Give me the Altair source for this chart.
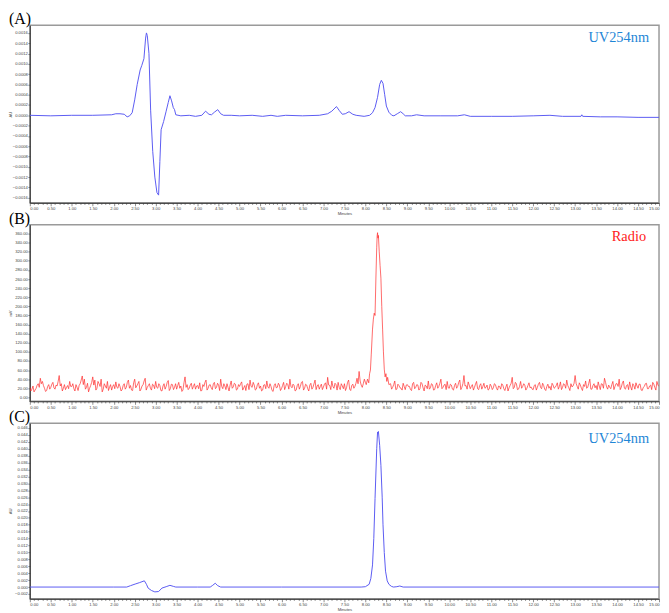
import altair as alt
import pandas as pd

# ---------------- Panel A: UV254nm (AU) ----------------
uv_a_t = [0.0, 0.5, 1.0, 1.5, 1.95, 2.05, 2.15, 2.25, 2.32, 2.38, 2.44, 2.5, 2.56, 2.63, 2.67,
          2.72, 2.76, 2.78, 2.80, 2.84, 2.88, 2.93, 2.98, 3.03, 3.07, 3.10, 3.13, 3.19, 3.25,
          3.30, 3.34, 3.38, 3.42, 3.45, 3.48, 3.6, 3.8, 3.95, 4.1, 4.19, 4.27, 4.33, 4.40, 4.48,
          4.55, 4.62, 4.8, 5.0, 5.3, 5.55, 5.75, 5.9, 6.1, 6.5, 6.9, 7.1, 7.2, 7.31, 7.38, 7.45,
          7.52, 7.61, 7.7, 7.78, 7.97, 8.1, 8.17, 8.23, 8.29, 8.34, 8.38, 8.42, 8.46, 8.5, 8.56,
          8.63, 8.68, 8.76, 8.84, 8.9, 8.95, 9.1, 9.22, 9.4, 9.8, 10.2, 10.36, 10.5, 11.0, 11.5,
          12.0, 12.4, 12.7, 13.14, 13.16, 13.18, 13.6, 14.0, 14.5, 15.0]
uv_a_v = [0.0, -0.00001, 0.0, 0.0, 0.00001, 0.00003, 0.00003, 0.00002, -0.00003, -0.00001,
          0.00005, 0.0003, 0.0006, 0.00088, 0.00097, 0.0011, 0.0015, 0.0016, 0.00155, 0.0012,
          0.0001, -0.0007, -0.0012, -0.0015, -0.00155, -0.0009, -0.00028, -0.00012, 0.00008,
          0.00025, 0.00038, 0.00028, 0.00015, 0.00011, 0.00001, -0.00001, 0.0, -0.00002, 0.0,
          0.00008, 0.00002, 0.00001, 0.00006, 0.00011, 0.00003, 0.0, 0.0, -0.00001, 0.0,
          -0.00002, 0.0, -0.00002, 0.0, -0.00001, 0.0, 0.00003, 0.00008, 0.00017, 0.00009,
          0.00002, 0.00003, 0.00007, 0.00002, 0.0, -0.00002, 0.0, 0.00005, 0.00015, 0.00035,
          0.0006, 0.00068, 0.00062, 0.0004, 0.00018, 0.00006, 0.0, -0.00001, 0.00003, 0.00007,
          0.00003, -0.00001, -0.00001, 0.00001, -0.00001, -0.00001, -0.00001, 0.00001, -0.00002,
          -0.00002, -0.00002, -0.00001, 0.0, -0.00002, -0.00002, 0.00001, -0.00002, -0.00003,
          -0.00003, -0.00004, -0.00004]

# ---------------- Panel B: Radio (mV) ----------------
RADIO_STEP = 0.05
radio_base_1 = [  # t = 0.00 .. 8.00
    22, 18, 12, 20, 30, 42, 35, 20, 15, 28, 22, 33, 18, 25, 48, 30, 20, 17, 26, 35,
    24, 19, 28, 15, 30, 47, 40, 22, 12, 26, 45, 38, 20, 30, 40, 18, 25, 35, 22, 16,
    28, 34, 20, 24, 17, 30, 22, 38, 26, 15, 40, 25, 35, 18, 28, 42, 22, 30, 16, 27,
    35, 20, 26, 14, 30, 24, 37, 19, 28, 22, 18, 33, 25, 16, 45, 28, 20, 31, 24, 18,
    26, 32, 15, 24, 38, 20, 28, 17, 33, 22, 27, 40, 19, 25, 30, 14, 36, 23, 29, 18,
    24, 34, 21, 15, 30, 38, 22, 27, 18, 32, 25, 16, 28, 36, 20, 24, 13, 30, 22, 27,
    19, 33, 24, 28, 40, 21, 26, 16, 30, 24, 35, 20, 27, 14, 31, 22, 38, 25, 18, 29,
    23, 32, 44, 26, 36, 20, 28, 33, 17, 25, 30, 21, 38, 15, 29, 24, 42, 57, 27, 30,
    33]
radio_mid_1 = [  # t = 0.025 .. 7.975
    14, 25, 16, 27, 22, 30, 26, 13, 24, 18, 29, 21, 27, 35, 25, 14, 28, 22, 19, 24,
    30, 14, 22, 26, 38, 28, 18, 31, 20, 33, 27, 16, 35, 24, 12, 30, 20, 15, 28, 24,
    19, 22, 30, 14, 26, 18, 33, 20, 16, 32, 21, 30, 14, 25, 36, 16, 26, 20, 29, 19,
    22, 30, 15, 25, 18, 33, 15, 29, 17, 30, 26, 20, 13, 32, 22, 17, 27, 18, 30, 25,
    19, 14, 28, 33, 16, 27, 21, 30, 19, 31, 15, 24, 30, 17, 22, 27, 20, 31, 16, 28,
    30, 16, 26, 29, 17, 24, 33, 16, 28, 20, 14, 27, 19, 23, 30, 15, 26, 21, 31, 15,
    26, 17, 31, 18, 24, 29, 14, 26, 18, 33, 16, 29, 19, 27, 18, 30, 17, 28, 24, 17,
    29, 18, 27, 17, 24, 31, 16, 22, 30, 19, 15, 33, 18, 26, 20, 31, 30, 36, 22, 40]
radio_peak_t = [8.02, 8.05, 8.08, 8.10, 8.12, 8.14, 8.17, 8.19, 8.21, 8.23, 8.25, 8.27, 8.28,
                8.29, 8.30, 8.31, 8.33, 8.35, 8.37, 8.39, 8.41, 8.43, 8.45, 8.47, 8.49, 8.51,
                8.53, 8.56]
radio_peak_v = [28, 40, 32, 52, 60, 95, 150, 172, 185, 180, 260, 330, 355, 362, 350, 356, 320,
                290, 262, 200, 150, 100, 62, 45, 52, 35, 44, 28]
radio_base_2_start = 8.60
radio_base_2 = [  # t = 8.60 .. 15.00
    30, 22, 36, 18, 26, 20, 31, 17,
    28, 24, 15, 33, 22, 27, 19, 30, 14, 25, 36, 21, 28, 17, 32, 24, 40, 22, 29, 35,
    20, 27, 16, 31, 24, 38, 22, 48, 26, 34, 19, 28, 22, 35, 17, 30, 24, 20, 27, 18,
    25, 21, 28, 16, 24, 30, 19, 23, 14, 26, 44, 22, 30, 18, 35, 24, 27, 20, 32, 23,
    17, 28, 22, 33, 19, 26, 15, 29, 24, 31, 20, 26, 18, 34, 22, 28, 38, 21, 30, 25,
    48, 24, 32, 20, 28, 36, 22, 40, 18, 30, 26, 34, 17, 29, 42, 23, 27, 19, 35, 24,
    30, 40, 22, 36, 18, 28, 34, 16, 26, 32, 20, 29, 15, 24, 31, 19, 27, 33, 22, 35,
    24]
radio_mid_2 = [  # t = 8.625 .. 14.975
    18, 28, 17, 29, 21, 16, 24, 27,
    24, 17, 30, 19, 28, 16, 33, 21, 27, 19, 18, 30, 16, 26, 20, 31, 19, 27, 17, 21,
    29, 18, 26, 20, 33, 17, 30, 25, 18, 27, 24, 16, 29, 19, 26, 18, 31, 22, 16, 29,
    17, 30, 20, 25, 18, 27, 15, 29, 21, 31, 19, 33, 17, 24, 20, 30, 16, 26, 21, 18,
    26, 16, 29, 22, 31, 18, 24, 20, 16, 27, 22, 32, 24, 17, 30, 20, 26, 15, 23, 31,
    30, 18, 27, 15, 24, 20, 31, 18, 26, 21, 17, 25, 30, 20, 33, 18, 22, 28, 17, 30,
    24, 17, 31, 20, 26, 17, 23, 30, 18, 25, 29, 16, 22, 30, 19, 25, 17, 29, 16, 27]

# ---------------- Panel C: UV254nm (AU) ----------------
uv_c_t = [0.0, 2.0, 2.31, 2.4, 2.51, 2.62, 2.73, 2.78, 2.82, 2.9, 2.98, 3.07, 3.15, 3.25, 3.34,
          3.42, 3.48, 4.0, 4.3, 4.36, 4.42, 4.48, 4.55, 6.0, 7.9, 8.0, 8.09, 8.13, 8.17, 8.20,
          8.23, 8.27, 8.29, 8.30, 8.31, 8.34, 8.37, 8.40, 8.42, 8.45, 8.48, 8.52, 8.56, 8.62,
          8.67, 8.75, 8.82, 8.9, 15.0]
uv_c_v = [0.0, 0.0, 0.0, 0.0004, 0.00086, 0.0013, 0.0018, 0.0008, -0.0003, -0.0010, -0.0014,
          -0.0013, -0.0003, 0.0001, 0.0005, 0.0002, 0.0, 0.0, 0.0, 0.0005, 0.0011, 0.0004, 0.0,
          0.0, 0.0, 0.0001, 0.0008, 0.0025, 0.0064, 0.014, 0.0256, 0.040, 0.0448, 0.0445, 0.045,
          0.041, 0.0352, 0.026, 0.018, 0.010, 0.0046, 0.0018, 0.0008, 0.0002, 0.0, 0.0001,
          0.0003, 0.0, 0.0]

x_tick_values = [round(i * 0.1, 1) for i in range(151)]
ya_ticks = [round(i * 0.0002, 4) for i in range(-8, 9)]
yb_ticks = [i * 20 for i in range(19)]
yc_ticks = [round(i * 0.002, 3) for i in range(-1, 24)]

# ---------------- data frames ----------------
df_a = pd.DataFrame({"t": uv_a_t, "v": uv_a_v})
df_c = pd.DataFrame({"t": uv_c_t, "v": uv_c_v})


def grid(start, values):
    return pd.DataFrame({"t": [round(start + i * RADIO_STEP, 3) for i in range(len(values))], "v": values})


df_b = pd.concat([
    grid(0.0, radio_base_1),
    grid(0.025, radio_mid_1),
    pd.DataFrame({"t": radio_peak_t, "v": radio_peak_v}),
    grid(radio_base_2_start, radio_base_2),
    grid(radio_base_2_start + 0.025, radio_mid_2),
]).sort_values("t").reset_index(drop=True)

W = 634
BLUE = "#5c5cf2"
RED = "#ff2b2b"
MAJOR = "abs(datum.value*2 - round(datum.value*2)) < 0.01"


def panel(df, color, ydom, yticks, yfmt, ytitle, tag, tagcolor, letter, H, tag_dx, tag_y, sw):
    x = alt.X("t:Q",
              scale=alt.Scale(domain=[0, 15], nice=False, zero=False),
              axis=alt.Axis(values=x_tick_values, title="Minutes", grid=False,
                            labelExpr="(" + MAJOR + ") ? format(datum.value, '.2f') : ''",
                            tickSize={"condition": {"test": MAJOR, "value": 3}, "value": 1.6},
                            labelFlush=True, labelOverlap=False))
    y = alt.Y("v:Q",
              scale=alt.Scale(domain=ydom, nice=False, zero=False),
              axis=alt.Axis(values=yticks, format=yfmt, title=ytitle, grid=False,
                            labelOverlap=False, titleX=-17))
    line = alt.Chart(df).mark_line(color=color, strokeWidth=sw, clip=True).encode(x=x, y=y)
    txt = alt.Chart(pd.DataFrame({"lab": [tag]})).mark_text(
        align="right", baseline="middle", font="Liberation Serif", fontSize=14.5, color=tagcolor
    ).encode(x=alt.value(W - tag_dx), y=alt.value(tag_y), text="lab:N")
    return alt.layer(line, txt).properties(
        width=W, height=H,
        title=alt.TitleParams(letter, anchor="start", font="Liberation Serif", fontSize=16,
                              fontWeight="normal", color="black", offset=-2))


pa = panel(df_a, BLUE, [-0.0017, 0.00175], ya_ticks, ".4f", "AU", "UV254nm", "#1f86d6", "(A)",
           179, 10, 13, 1.0)
pb = panel(df_b, RED, [-8.7, 379.6], yb_ticks, ".2f", "mV", "Radio", "#ff1a1a", "(B)",
           178, 13, 12, 0.7)
pc = panel(df_c, BLUE, [-0.0034, 0.0474], yc_ticks, ".3f", "AU", "UV254nm", "#1f86d6", "(C)",
           177, 10, 16, 1.0)

chart = alt.vconcat(pa, pb, pc, spacing=22, bounds="flush").properties(
    padding={"left": 0, "top": 0, "right": 0, "bottom": 0}
).configure_view(
    stroke="#9a9a9a", strokeWidth=1.5
).configure_axis(
    labelFont="Liberation Sans", labelFontSize=4.2, labelColor="#444",
    titleFont="Liberation Sans", titleFontSize=4.2, titleColor="#444", titleFontWeight="normal",
    tickColor="#444", tickWidth=0.6, domainColor="#333", domainWidth=1,
    labelPadding=1, titlePadding=1
).configure_axisY(tickSize=2, labelPadding=0.5)

chart.save("out.html", embed_options={"renderer": "svg", "actions": False})
